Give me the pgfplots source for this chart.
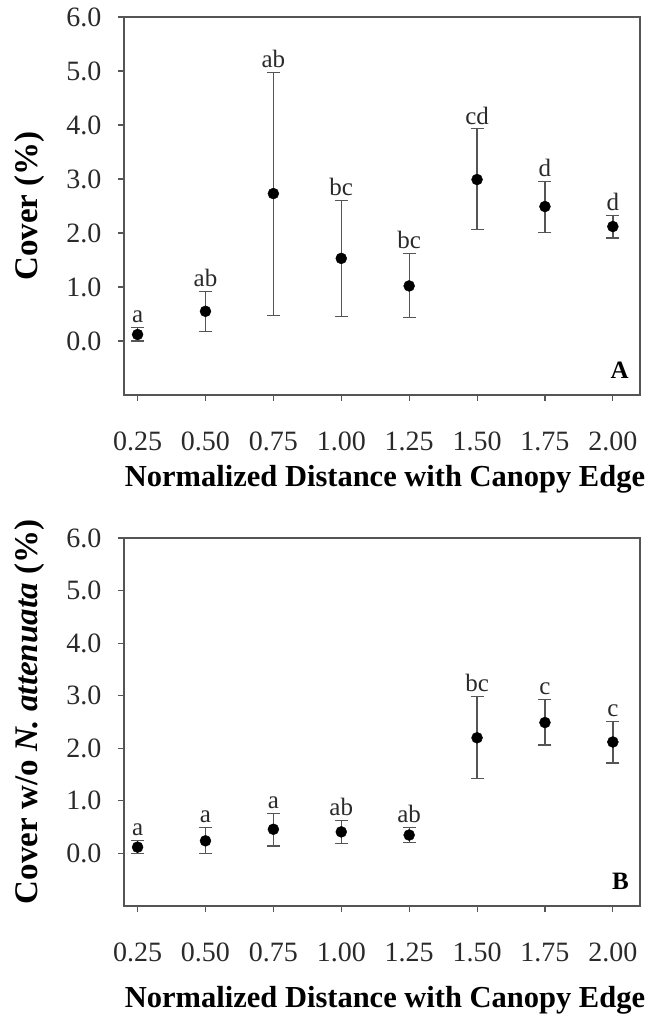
\documentclass[border=0pt]{standalone}
\usepackage{pgfplots}
\pgfplotsset{compat=1.18}
\usepackage{fontspec}
\setmainfont{Liberation Serif}
\definecolor{axgray}{HTML}{555555}
\definecolor{txtgray}{HTML}{2A2A2A}
\pgfplotsset{
  panel/.style={
    scale only axis,
    width=516pt,
    xmin=0.2, xmax=2.1,
    ymin=-1, ymax=6,
    axis line style={axgray, line width=1.2pt},
    xtick={0.25,0.5,0.75,1,1.25,1.5,1.75,2},
    ytick={0,1,2,3,4,5,6},
    tick style={axgray, line width=1.1pt},
    tick align=outside,
    major tick length=6pt,
    xtick pos=bottom, ytick pos=left,
    /pgf/number format/assume math mode=true,
    xticklabel={\pgfmathprintnumber[fixed,fixed zerofill,precision=2]{\tick}},
    yticklabel={\pgfmathprintnumber[fixed,fixed zerofill,precision=1]{\tick}},
    ticklabel style={font=\fontsize{28}{32}\selectfont, text=txtgray},
    xticklabel style={yshift=-27pt},
    yticklabel style={xshift=-13pt},
    xlabel={Normalized Distance with Canopy Edge},
    xlabel style={font=\bfseries\fontsize{30.5}{34}\selectfont, text=black, at={(rel axis cs:0.5,0)}, anchor=center, xshift=3pt},
    ylabel style={font=\bfseries\fontsize{33}{36}\selectfont, text=black, at={(rel axis cs:0,0.5)}, anchor=center, yshift=94pt},
    clip=false,
  },
  pts/.style={
    only marks, mark=*, mark size=5.5pt, mark options={fill=black, draw=black},
    error bars/.cd, y dir=both, y explicit,
    error bar style={axgray, line width=1.3pt},
    error mark options={rotate=90, mark size=6.5pt, axgray, line width=1.3pt},
  },
  lets/.style={
    draw=none, mark=none,
    nodes near coords, point meta=explicit symbolic,
    every node near coord/.append style={font=\fontsize{25}{28}\selectfont, text=txtgray, anchor=south, yshift=1pt},
  },
}
\begin{document}
\begin{tikzpicture}
\begin{axis}[panel, name=A, height=378pt, at={(0,0)}, anchor=north west,
  xlabel style={yshift=-84pt},
  ylabel={Cover (\%)}]
\addplot[pts] coordinates {
 (0.25,0.12) += (0,0.13) -= (0,0.12)
 (0.50,0.55) += (0,0.37) -= (0,0.37)
 (0.75,2.73) += (0,2.24) -= (0,2.26)
 (1.00,1.53) += (0,1.07) -= (0,1.08)
 (1.25,1.02) += (0,0.60) -= (0,0.59)
 (1.50,2.99) += (0,0.94) -= (0,0.93)
 (1.75,2.49) += (0,0.47) -= (0,0.48)
 (2.00,2.12) += (0,0.20) -= (0,0.21)
};
\addplot[lets] coordinates {
 (0.25,0.25)[a] (0.50,0.92)[ab] (0.75,4.97)[ab] (1.00,2.60)[bc]
 (1.25,1.62)[bc] (1.50,3.93)[cd] (1.75,2.96)[d] (2.00,2.32)[d]
};
\node[font=\bfseries\fontsize{25}{28}\selectfont, anchor=south east] at (rel axis cs:0.985,0.035) {A};
\end{axis}
\begin{axis}[panel, name=B, height=368pt, at={(0,-521pt)}, anchor=north west,
  xlabel style={yshift=-94pt},
  ylabel style={xshift=10pt},
  ylabel={Cover w/o \textit{N. attenuata} (\%)}]
\addplot[pts] coordinates {
 (0.25,0.12) += (0,0.13) -= (0,0.12)
 (0.50,0.24) += (0,0.26) -= (0,0.24)
 (0.75,0.46) += (0,0.30) -= (0,0.32)
 (1.00,0.41) += (0,0.22) -= (0,0.22)
 (1.25,0.35) += (0,0.14) -= (0,0.14)
 (1.50,2.20) += (0,0.78) -= (0,0.78)
 (1.75,2.49) += (0,0.44) -= (0,0.43)
 (2.00,2.12) += (0,0.39) -= (0,0.40)
};
\addplot[lets] coordinates {
 (0.25,0.25)[a] (0.50,0.50)[a] (0.75,0.76)[a] (1.00,0.63)[ab]
 (1.25,0.49)[ab] (1.50,2.98)[bc] (1.75,2.93)[c] (2.00,2.51)[c]
};
\node[font=\bfseries\fontsize{25}{28}\selectfont, anchor=south east] at (rel axis cs:0.985,0.035) {B};
\end{axis}
\path ([xshift=-124pt,yshift=17pt]A.north west) rectangle ([xshift=4pt,yshift=-112pt]B.south east);
\end{tikzpicture}
\end{document}
